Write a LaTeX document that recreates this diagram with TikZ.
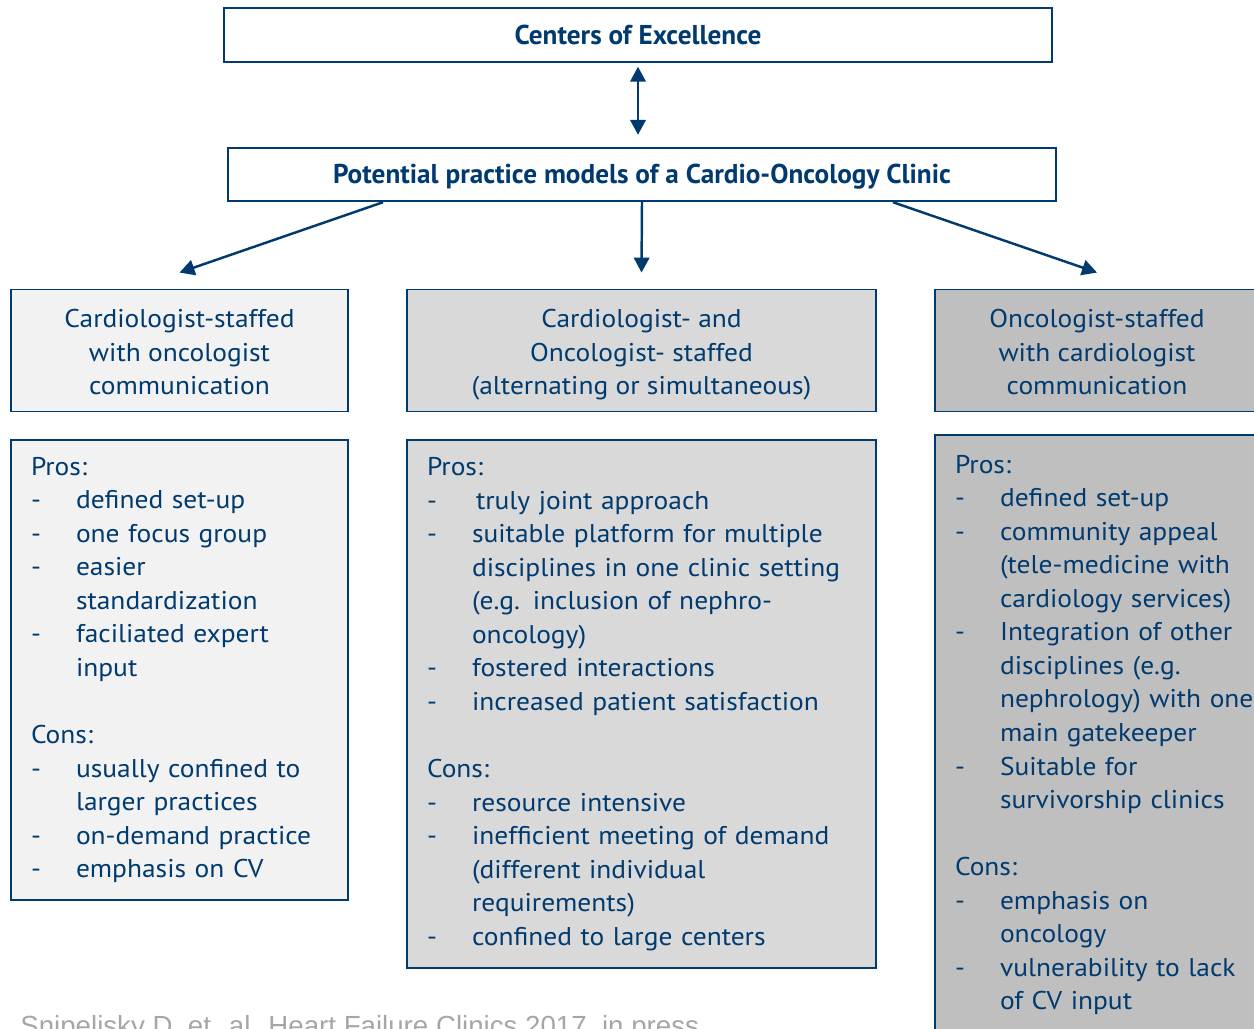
\documentclass[tikz,border=0pt]{standalone}
\usepackage{fontspec}
\setmainfont[FakeStretch=1.07]{PT Sans}
\newfontfamily\headfont{PT Sans}
\newfontfamily\notefont{Liberation Sans}
\usetikzlibrary{arrows.meta}

\definecolor{navy}{HTML}{003A6E}
\definecolor{lightfill}{HTML}{F2F2F2}
\definecolor{midfill}{HTML}{D9D9D9}
\definecolor{darkfill}{HTML}{BFBFBF}
\definecolor{notegrey}{HTML}{A6A6A6}

\newcommand{\bodysize}{\fontsize{14.6}{19.1}\selectfont}
% one dash item with hanging text
\newcommand{\itm}[1]{\par\hangindent=0.9cm\hangafter=1\noindent\makebox[0.9cm][l]{-}#1}
\newcommand{\gap}{\par\noindent\mbox{}}
% header lines, with the same top and bottom room in every box
\newcommand{\hdtop}{\rule{0pt}{17.9pt}}

\begin{document}
\begin{tikzpicture}[x=0.02cm, y=-0.02cm,
    every node/.style={text=navy, font=\bodysize},
    titlebox/.style={draw=navy, line width=1.1pt, fill=white, inner sep=0pt,
        font=\headfont\bfseries\fontsize{15.5}{18}\selectfont,
        text height=10.4pt, text depth=0pt,
        minimum width=16.56cm, minimum height=1.07cm},
    headbox/.style={draw=navy, line width=1.1pt, inner sep=0pt, align=center,
        minimum height=2.44cm},
    listbox/.style={draw=navy, line width=1.1pt, align=left,
        inner xsep=0.4cm, inner ysep=0pt},
    navytip/.tip={Triangle[width=0.31cm, length=0.3cm]},
    link/.style={draw=navy, line width=1.4pt, -navytip},
]
    \useasboundingbox (0,0) rectangle (1254,1028);
    \clip (0,0) rectangle (1254,1028);

    \node[titlebox] at (638,35) (coe) {Centers of Excellence};
    \node[titlebox] at (642,174.5) (models) {Potential practice models of a Cardio-Oncology Clinic};

    \node[headbox, fill=lightfill, minimum width=6.74cm] at (179.5,350.5) (hl)
        {\hdtop Cardiologist-staffed\\with oncologist\\communication\strut};
    \node[headbox, fill=midfill, minimum width=9.38cm] at (641.5,350.5) (hm)
        {\hdtop Cardiologist- and\\Oncologist- staffed\\(alternating or simultaneous)\strut};
    \node[headbox, fill=darkfill, minimum width=6.48cm] at (1097,350.5) (hr)
        {\hdtop Oncologist-staffed\\with cardiologist\\communication\strut};

    \node[listbox, fill=lightfill, text width=5.94cm, minimum height=9.2cm] at (179.5,670) (bl) {%
        \noindent Pros:
        \itm{defined set-up}
        \itm{one focus group}
        \itm{easier\newline standardization}
        \itm{faciliated expert\newline input}
        \gap
        \par\noindent Cons:
        \itm{usually confined to\newline larger practices}
        \itm{on-demand practice}
        \itm{emphasis on CV}\par};
    \node[listbox, fill=midfill, text width=8.58cm, minimum height=10.56cm] at (641.5,704) (bm) {%
        \noindent Pros:
        \itm{\hskip0.08cm truly joint approach}
        \itm{suitable platform for multiple\newline disciplines in one clinic setting\newline (e.g. inclusion of nephro-\newline oncology)}
        \itm{fostered interactions}
        \itm{increased patient satisfaction}
        \gap
        \par\noindent Cons:
        \itm{resource intensive}
        \itm{inefficient meeting of demand\newline (different individual\newline requirements)}
        \itm{confined to large centers}\par};
    \node[listbox, fill=darkfill, text width=6.1cm, minimum height=12cm] at (1107.5,735) (br) {%
        \noindent Pros:
        \itm{defined set-up}
        \itm{community appeal\newline (tele-medicine with\newline cardiology services)}
        \itm{Integration of other\newline disciplines (e.g.\newline nephrology) with one\newline main gatekeeper}
        \itm{Suitable for\newline survivorship clinics}
        \gap
        \par\noindent Cons:
        \itm{emphasis on\newline oncology}
        \itm{vulnerability to lack\newline of CV input}\par};

    \node[anchor=base west, inner sep=0pt, text=notegrey,
        font=\notefont\fontsize{15.75}{18}\selectfont] at (20,1035) (cite)
        {Snipelisky D, et. al. Heart Failure Clinics 2017, in press};

    \draw[link, navytip-navytip, shorten <=0.08cm, shorten >=0.24cm] (coe.south) -- (coe.south |- models.north);
    \draw[link] ([xshift=-5.18cm]models.south) -- ([yshift=0.32cm]hl.north);
    \draw[link] (models.south) -- ([yshift=0.32cm]hm.north);
    \draw[link] ([xshift=5.02cm]models.south) -- ([yshift=0.32cm]hr.north);
\end{tikzpicture}
\end{document}
